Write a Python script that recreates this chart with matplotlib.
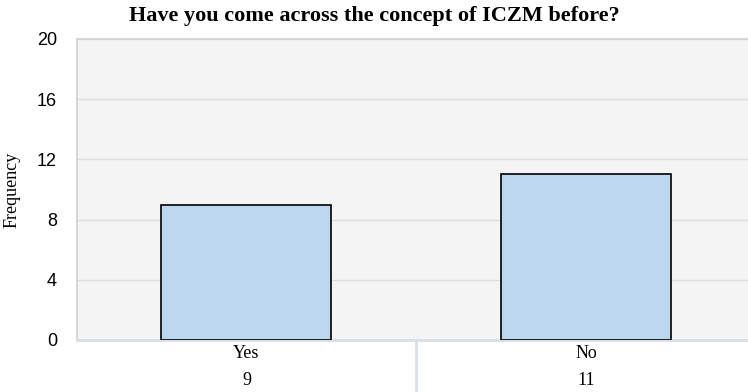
import matplotlib.pyplot as plt

categorias = ['Yes', 'No']
frequencia = [9, 11]
yticks = [0, 4, 8, 12, 16, 20]

fig = plt.figure(figsize=(7.48, 3.92), dpi=100)
ax = fig.add_axes([0.1023, 0.1327, 0.9088, 0.7679])
ax.set_facecolor('#f4f4f4')

x = list(range(len(categorias)))
ax.bar(x, frequencia, width=0.5, color='#bdd7ee', edgecolor='black', linewidth=1.2, zorder=3)

ax.set_xlim(-0.5, len(categorias) - 0.5)
ax.set_ylim(0, 20)
ax.set_yticks(yticks)
ax.set_yticklabels([str(t) for t in yticks], family='Liberation Sans', fontsize=13)
ax.tick_params(axis='y', length=0, pad=14)
ax.set_xticks([])
ax.grid(axis='y', color='#dedede', linewidth=1, zorder=0)

for lado in ['left', 'top', 'right']:
    ax.spines[lado].set_color('#d0d0d0')
    ax.spines[lado].set_linewidth(1.2)
ax.spines['bottom'].set_color('#d9dfe8')
ax.spines['bottom'].set_linewidth(2)

# tabela abaixo do eixo
tr = ax.get_xaxis_transform()
for i, (cat, f) in enumerate(zip(categorias, frequencia)):
    ax.text(i, -0.045, cat, transform=tr, ha='center', va='center', family='Liberation Serif', fontsize=13)
    ax.text(i, -0.135, str(f), transform=tr, ha='center', va='center', family='Liberation Serif', fontsize=13)
for i in range(1, len(categorias)):
    ax.plot([i - 0.5, i - 0.5], [0, -0.2], transform=tr, color='#d9dfe8', linewidth=2, clip_on=False)

ax.set_ylabel('Frequency', family='Liberation Serif', fontsize=13, labelpad=12)
fig.text(0.5, 0.96, 'Have you come across the concept of ICZM before?', ha='center', va='center',
         family='Liberation Serif', fontweight='bold', fontsize=16)

plt.savefig('out.png', dpi=100)
